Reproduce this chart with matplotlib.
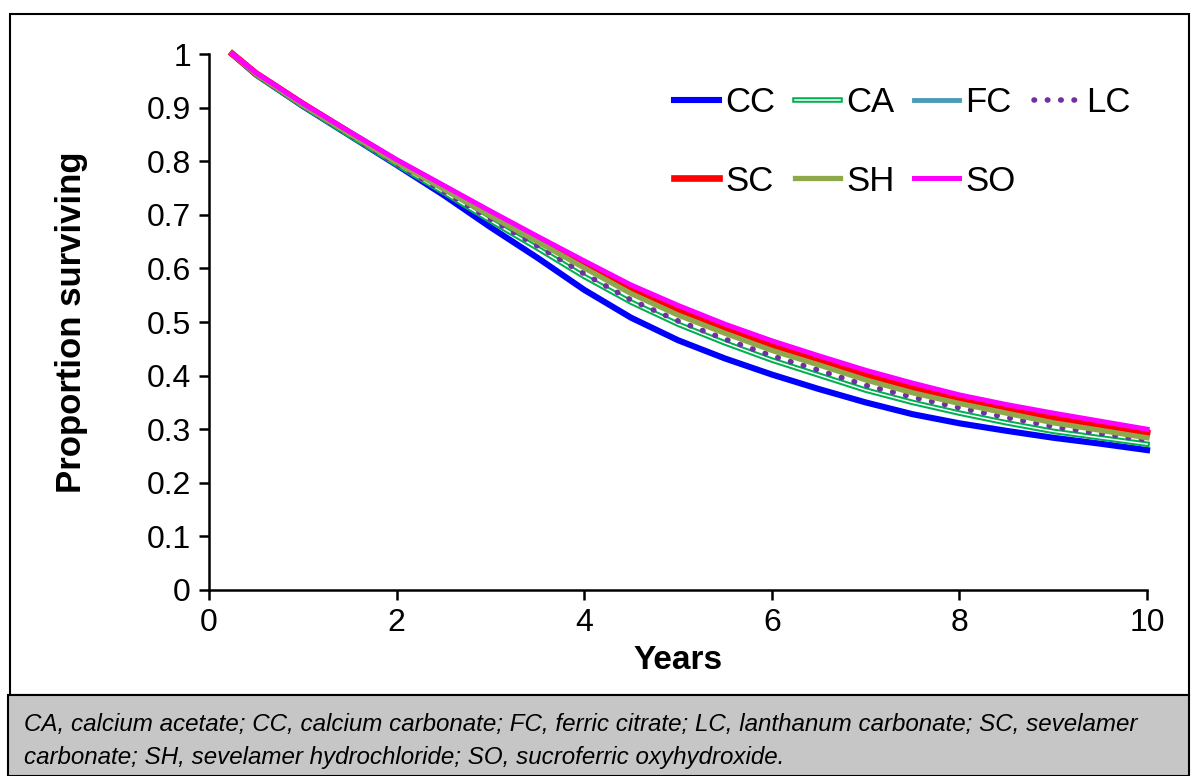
import matplotlib.pyplot as plt
from matplotlib.patches import Rectangle
from matplotlib.ticker import FuncFormatter

plt.rcParams['font.family'] = ['Liberation Sans', 'DejaVu Sans']

years = [0.25, 0.5, 1, 1.5, 2, 2.5, 3, 3.5, 4, 4.5, 5, 5.5, 6, 6.5, 7, 7.5, 8, 8.5, 9, 9.5, 10]

cc = [1.0, 0.962, 0.903, 0.848, 0.793, 0.737, 0.677, 0.62, 0.56, 0.508, 0.466,
      0.432, 0.402, 0.375, 0.35, 0.328, 0.311, 0.297, 0.284, 0.273, 0.261]
ca = [1.0, 0.961, 0.903, 0.848, 0.794, 0.742, 0.689, 0.638, 0.585, 0.537, 0.496,
      0.461, 0.429, 0.401, 0.373, 0.35, 0.33, 0.312, 0.296, 0.284, 0.272]
fc = [1.0, 0.965, 0.908, 0.855, 0.802, 0.754, 0.705, 0.658, 0.612, 0.566, 0.528,
      0.492, 0.46, 0.432, 0.405, 0.381, 0.36, 0.342, 0.326, 0.311, 0.296]
lc = [1.0, 0.962, 0.904, 0.849, 0.795, 0.744, 0.692, 0.642, 0.59, 0.541, 0.502,
      0.468, 0.437, 0.41, 0.382, 0.36, 0.34, 0.322, 0.305, 0.292, 0.28]
sc = [1.0, 0.964, 0.907, 0.853, 0.8, 0.752, 0.703, 0.655, 0.608, 0.561, 0.521,
      0.487, 0.455, 0.428, 0.4, 0.376, 0.356, 0.338, 0.321, 0.307, 0.293]
sh = [1.0, 0.963, 0.905, 0.851, 0.798, 0.748, 0.698, 0.65, 0.601, 0.553, 0.513,
      0.479, 0.447, 0.42, 0.392, 0.368, 0.348, 0.33, 0.312, 0.298, 0.284]
so = [1.0, 0.965, 0.908, 0.855, 0.803, 0.755, 0.707, 0.66, 0.614, 0.569, 0.531,
      0.496, 0.465, 0.437, 0.41, 0.386, 0.364, 0.346, 0.33, 0.315, 0.30]

footnote = ['CA, calcium acetate; CC, calcium carbonate; FC, ferric citrate; LC, lanthanum carbonate; SC, sevelamer',
            'carbonate; SH, sevelamer hydrochloride; SO, sucroferric oxyhydroxide.']

fig = plt.figure(figsize=(11.92, 7.76), dpi=100)
ax = fig.add_axes([0.1753, 0.2397, 0.787, 0.6907])

# outer frame and grey footnote panel
fig.patches.append(Rectangle((10 / 1192, 1 - 695 / 776), 1179 / 1192, 681 / 776,
                             transform=fig.transFigure, fill=False, ec='black', lw=1.5))
fig.patches.append(Rectangle((8 / 1192, 0), 1181 / 1192, 81 / 776,
                             transform=fig.transFigure, fc='#c6c6c6', ec='black', lw=1.5))

h_cc, = ax.plot(years, cc, color='#0000ff', lw=4.4, clip_on=False)
h_ca, = ax.plot(years, ca, color='#00b050', lw=4.0, clip_on=False)
h_ca2, = ax.plot(years, ca, color='white', lw=1.1, clip_on=False)
h_fc, = ax.plot(years, fc, color='#4a9bb5', lw=3.5, clip_on=False)
h_lc, = ax.plot(years, lc, color='#7030a0', lw=4.0, linestyle=(0, (0.1, 2.3)),
                dash_capstyle='round', clip_on=False)
h_sc, = ax.plot(years, sc, color='#ff0000', lw=4.8, clip_on=False)
h_sh, = ax.plot(years, sh, color='#8fa84b', lw=3.8, clip_on=False)
h_so, = ax.plot(years, so, color='#ff00ff', lw=3.6, clip_on=False)

# column-major order so the legend reads row by row
handles = [h_cc, h_sc, (h_ca, h_ca2), h_sh, h_fc, h_so, h_lc]
labels = ['CC', 'SC', 'CA', 'SH', 'FC', 'SO', 'LC']
fig.legend(handles, labels, loc='upper left', bbox_to_anchor=(0.551, 0.911),
           ncol=4, frameon=False, fontsize=25, borderpad=0, handlelength=1.3,
           handletextpad=0.18, columnspacing=0.55, labelspacing=1.3)

ax.set_xlim(0, 10)
ax.set_ylim(0, 1)
ax.set_xticks([0, 2, 4, 6, 8, 10])
ax.set_yticks([i / 10 for i in range(11)])
ax.yaxis.set_major_formatter(FuncFormatter(lambda v, p: '%g' % v))
ax.tick_params(labelsize=23, length=7, width=1.8, direction='out', pad=6)
for s in ['top', 'right']:
    ax.spines[s].set_visible(False)
for s in ['left', 'bottom']:
    ax.spines[s].set_linewidth(1.8)

ax.set_xlabel('Years', fontsize=24, fontweight='bold', labelpad=5)
ax.set_ylabel('Proportion surviving', fontsize=25, fontweight='bold', labelpad=42)

fig.text(24 / 1192, 1 - 731 / 776, footnote[0], fontsize=17.4, style='italic', va='baseline')
fig.text(24 / 1192, 1 - 764 / 776, footnote[1], fontsize=17.4, style='italic', va='baseline')

fig.savefig('out.png', dpi=100)
